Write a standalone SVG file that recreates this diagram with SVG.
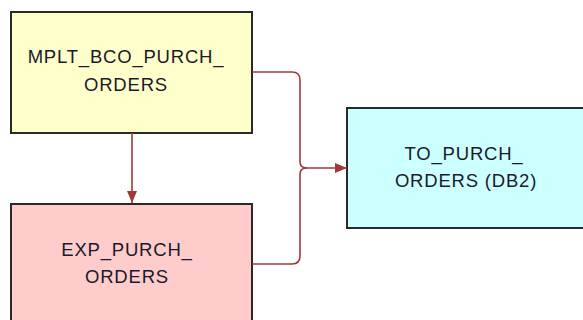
<svg xmlns="http://www.w3.org/2000/svg" width="583" height="320" viewBox="0 0 583 320">
<style>
.node rect{stroke:#2a2a2a;stroke-width:2}
.lbl{font-family:"Liberation Sans",Arial,sans-serif;font-size:18.5px;letter-spacing:0.8px;fill:#1a1a2a;text-anchor:middle}
.conn path{fill:none;stroke:#a03a3a;stroke-width:1.6}
</style>
<defs>
<marker id="ah" viewBox="0 0 12 10" refX="12" refY="5" markerWidth="12" markerHeight="10" markerUnits="userSpaceOnUse" orient="auto">
<path d="M0,0 L12,5 L0,10 Z" fill="#a03a3a"/>
</marker>
</defs>
<rect width="583" height="320" fill="#ffffff"/>
<g id="n1" class="node">
<rect x="11" y="12" width="241" height="121" fill="#ffffcc"/>
<text class="lbl" x="126" y="63">MPLT_BCO_PURCH_</text>
<text class="lbl" x="126" y="91">ORDERS</text>
</g>
<g id="n2" class="node">
<rect x="11" y="204" width="241" height="130" fill="#ffcccc"/>
<text class="lbl" x="127" y="256">EXP_PURCH_</text>
<text class="lbl" x="127" y="283">ORDERS</text>
</g>
<g id="n3" class="node">
<rect x="347" y="108" width="250" height="120" fill="#ccffff"/>
<text class="lbl" x="464" y="160">TO_PURCH_</text>
<text class="lbl" x="466" y="187">ORDERS (DB2)</text>
</g>
<g class="conn">
<path d="M132,133 L132,203" marker-end="url(#ah)"/>
<path d="M252,72 L292,72 Q300,72 300,80 L300,162 Q300,168 307,168"/>
<path d="M252,264 L292,264 Q300,264 300,256 L300,174 Q300,168 307,168"/>
<path d="M307,168 L347,168" marker-end="url(#ah)"/>
</g>
</svg>
